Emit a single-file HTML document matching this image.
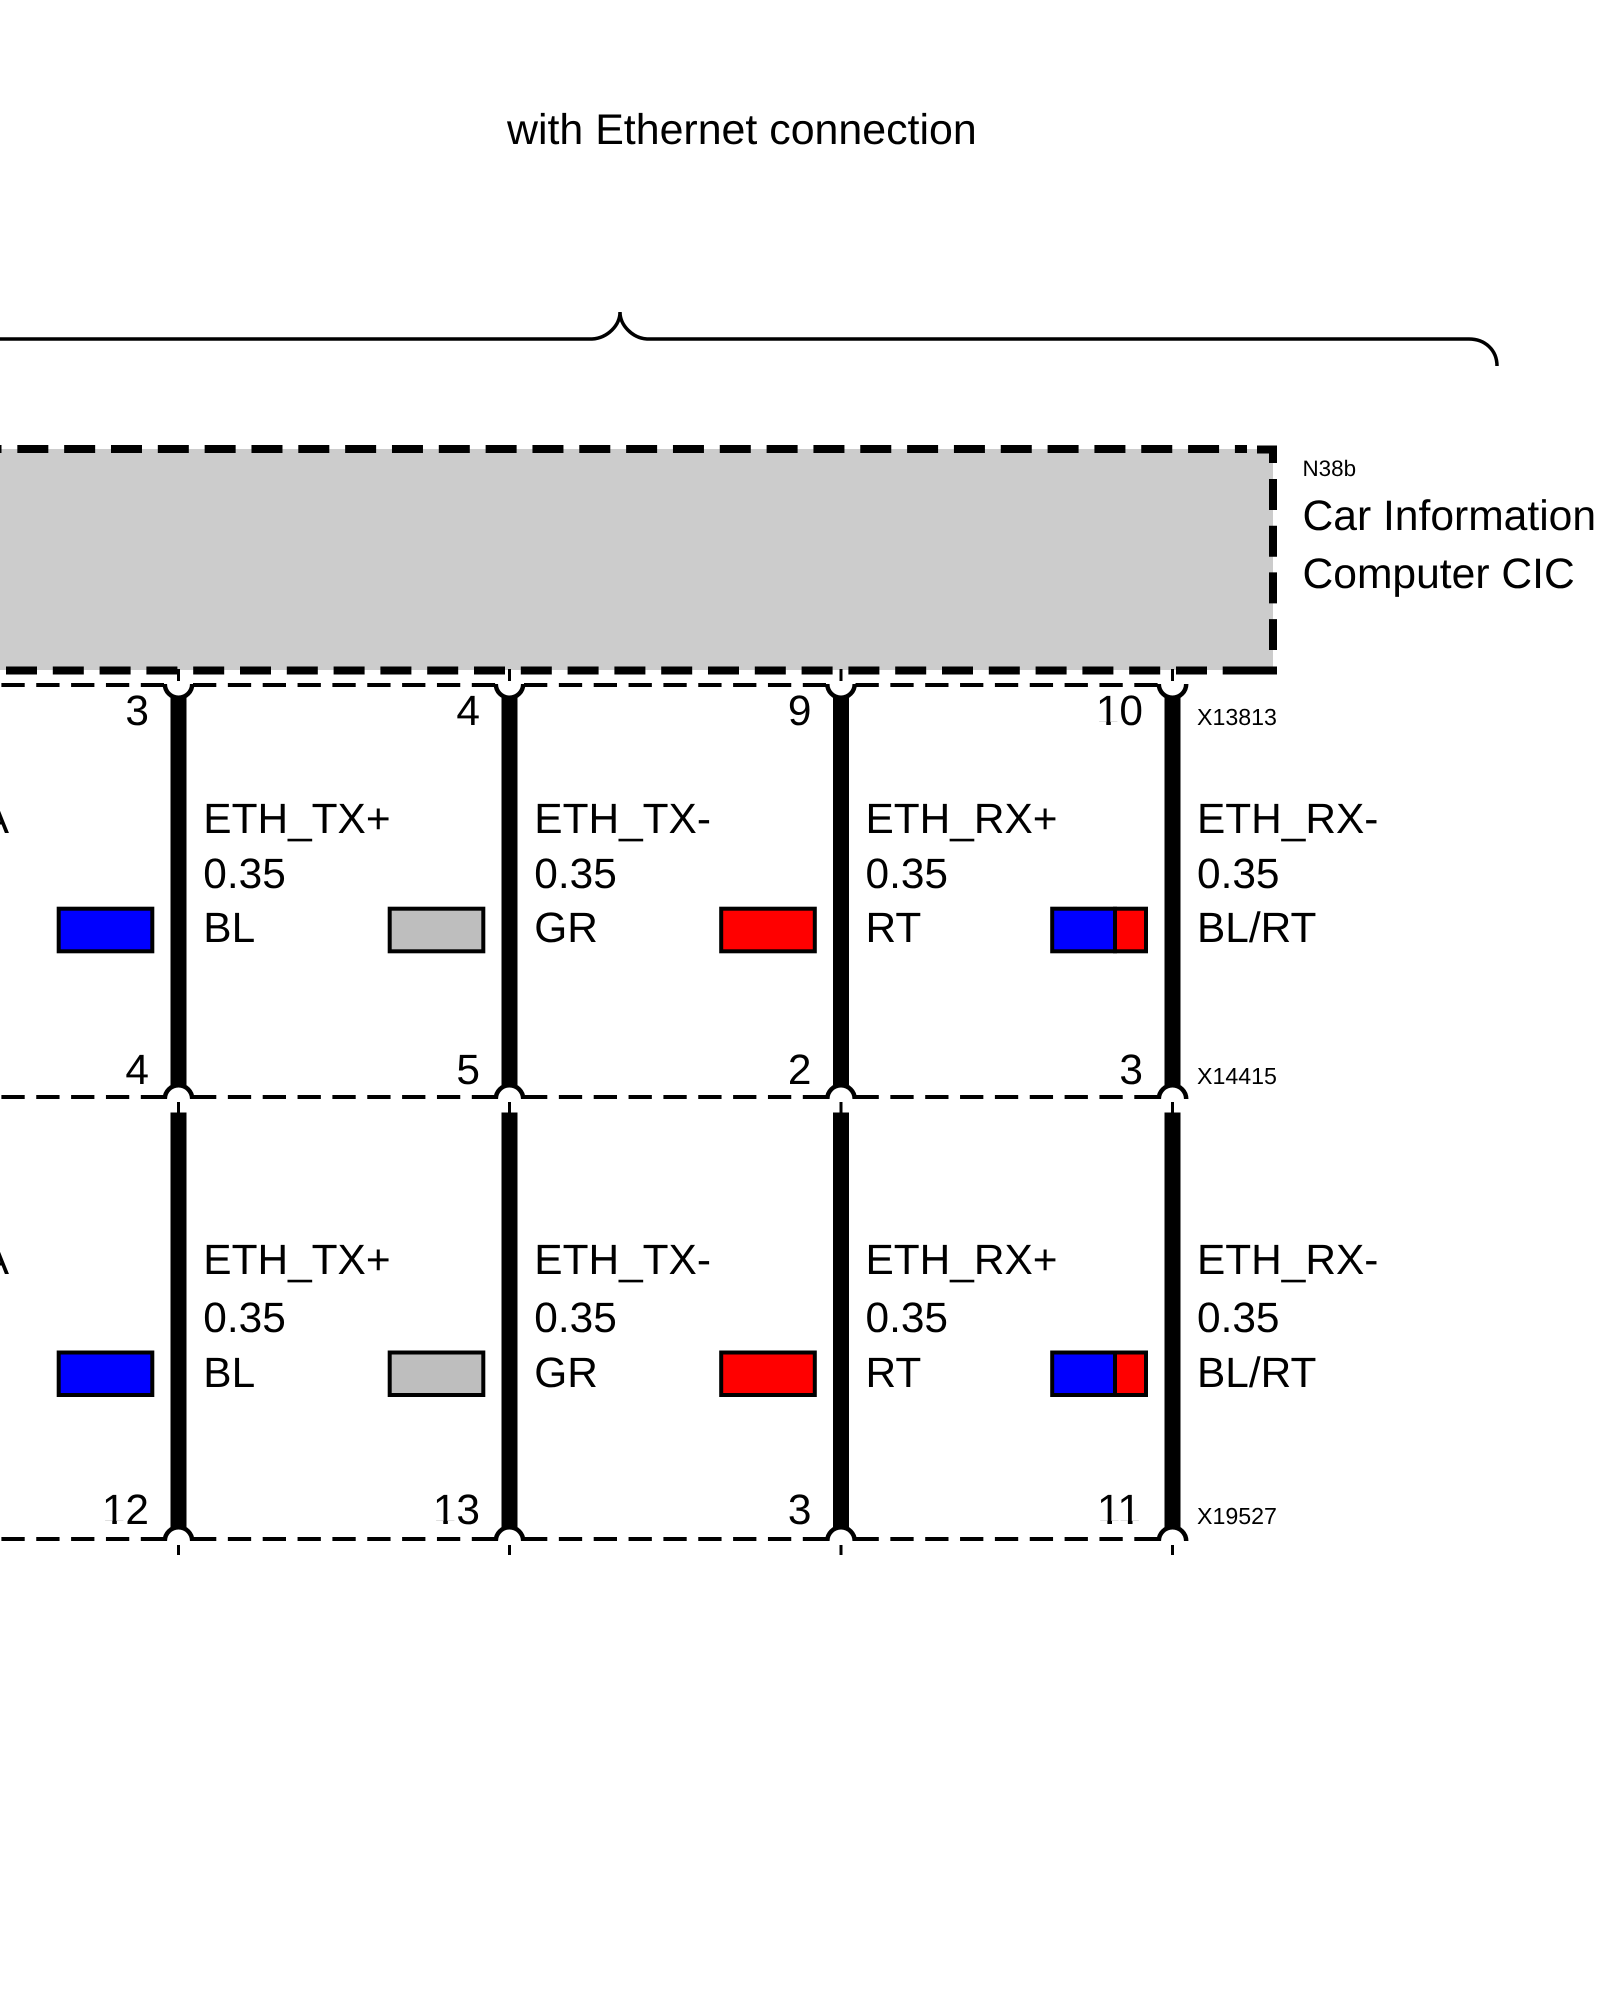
<!DOCTYPE html>
<html><head><meta charset="utf-8"><style>
html,body{margin:0;padding:0;background:#fff}
svg{display:block}
text{font-family:"Liberation Sans",sans-serif;fill:#000;text-rendering:geometricPrecision}
.l{font-size:42.4px}.s{font-size:23.2px}
</style></head><body>
<svg width="1600" height="2000" viewBox="0 0 1600 2000" xmlns="http://www.w3.org/2000/svg">
<rect width="1600" height="2000" fill="#fff"/>
<text x="507" y="144" font-size="42.9">with Ethernet connection</text>
<path d="M-5 339H592C608 338 620 325 620 312C620 325 632 338 647 339H1469C1485 339 1497 350 1497 366" fill="none" stroke="#000" stroke-width="3.5"/>
<rect x="-5" y="449" width="1278" height="221" fill="#ccc"/>
<g fill="none" stroke="#000" stroke-width="8">
<path d="M-29.5 449H1247" stroke-dasharray="31 15.83"/>
<path d="M1257 449.5H1273V463"/>
<path d="M1273 479V650" stroke-dasharray="31 15.7"/>
<path d="M-40.8 670.5H1210" stroke-dasharray="31 15.8"/>
<path d="M1222.7 670.5H1277"/>
</g>
<g id="d" fill="none" stroke="#000" stroke-width="4" stroke-dasharray="23.3 11.55">
<path d="M-138 685H164"/><path d="M193 685H495.5"/><path d="M524 685H826"/><path d="M855.5 685H1158"/>
<path d="M-138 1097H164"/><path d="M193 1097H495.5"/><path d="M524 1097H826"/><path d="M855.5 1097H1158"/>
<path d="M-138 1539H164"/><path d="M193 1539H495.5"/><path d="M524 1539H826"/><path d="M855.5 1539H1158"/>
</g>
<g id="w">
<g fill="none" stroke="#000" stroke-width="4.5">
<path d="M164.8 684A13.7 13.7 0 0 0 192.2 684"/>
<path d="M164.8 1099A13.7 13.7 0 0 1 192.2 1099"/>
<path d="M164.8 1541A13.7 13.7 0 0 1 192.2 1541"/>
</g>
<rect x="170.5" y="696" width="16" height="389"/>
<rect x="170.5" y="1112.5" width="16" height="415"/>
<rect x="177" y="669" width="3" height="12"/>
<rect x="177" y="1102" width="3" height="11"/>
<rect x="177" y="1545" width="3" height="10"/>
</g>
<use href="#w" x="331"/><use href="#w" x="662.5"/><use href="#w" x="994"/>
<g stroke="#000" stroke-width="4">
<rect x="58.7" y="908.7" width="93.6" height="42.6" fill="#00f"/>
<rect x="389.7" y="908.7" width="93.6" height="42.6" fill="#bebebe"/>
<rect x="721.2" y="908.7" width="93.6" height="42.6" fill="#f00"/>
<rect x="1052.2" y="908.7" width="62.8" height="42.6" fill="#00f"/><rect x="1115" y="908.7" width="31" height="42.6" fill="#f00"/>
<rect x="58.7" y="1352.5" width="93.6" height="42.5" fill="#00f"/>
<rect x="389.7" y="1352.5" width="93.6" height="42.5" fill="#bebebe"/>
<rect x="721.2" y="1352.5" width="93.6" height="42.5" fill="#f00"/>
<rect x="1052.2" y="1352.5" width="62.8" height="42.5" fill="#00f"/><rect x="1115" y="1352.5" width="31" height="42.5" fill="#f00"/>
</g>
<text class="l" x="9" y="833" text-anchor="end">A</text><text class="l" x="9" y="1274" text-anchor="end">A</text>
<text class="l" x="203.3" y="833">ETH_TX+</text><text class="l" x="203.3" y="888">0.35</text><text class="l" x="203.3" y="942">BL</text>
<text class="l" x="534.3" y="833">ETH_TX-</text><text class="l" x="534.3" y="888">0.35</text><text class="l" x="534.3" y="942">GR</text>
<text class="l" x="865.5" y="833">ETH_RX+</text><text class="l" x="865.5" y="888">0.35</text><text class="l" x="865.5" y="942">RT</text>
<text class="l" x="1197" y="833">ETH_RX-</text><text class="l" x="1197" y="888">0.35</text><text class="l" x="1197" y="942">BL/RT</text>
<text class="l" x="203.3" y="1274">ETH_TX+</text><text class="l" x="203.3" y="1332">0.35</text><text class="l" x="203.3" y="1387">BL</text>
<text class="l" x="534.3" y="1274">ETH_TX-</text><text class="l" x="534.3" y="1332">0.35</text><text class="l" x="534.3" y="1387">GR</text>
<text class="l" x="865.5" y="1274">ETH_RX+</text><text class="l" x="865.5" y="1332">0.35</text><text class="l" x="865.5" y="1387">RT</text>
<text class="l" x="1197" y="1274">ETH_RX-</text><text class="l" x="1197" y="1332">0.35</text><text class="l" x="1197" y="1387">BL/RT</text>
<text class="l" text-anchor="end" x="149" y="725">3</text><text class="l" text-anchor="end" x="480" y="725">4</text><text class="l" text-anchor="end" x="811.5" y="725">9</text><text class="l" text-anchor="end" x="1143" y="725">10</text>
<text class="l" text-anchor="end" x="149" y="1084">4</text><text class="l" text-anchor="end" x="480" y="1084">5</text><text class="l" text-anchor="end" x="811.5" y="1084">2</text><text class="l" text-anchor="end" x="1143" y="1084">3</text>
<text class="l" text-anchor="end" x="149" y="1524">12</text><text class="l" text-anchor="end" x="480" y="1524">13</text><text class="l" text-anchor="end" x="811.5" y="1524">3</text><text class="l" text-anchor="end" x="1141" y="1524">11</text>
<g fill="#fff">
<rect x="1097.8" y="722" width="8.5" height="4"/><rect x="1110.8" y="722" width="8" height="4"/>
<rect x="103.8" y="1521" width="8.5" height="4"/><rect x="116.8" y="1521" width="8" height="4"/>
<rect x="434.8" y="1521" width="8.5" height="4"/><rect x="447.8" y="1521" width="8" height="4"/>
<rect x="1098.9" y="1521" width="8.5" height="4"/><rect x="1112" y="1521" width="8" height="4"/>
<rect x="1119.4" y="1521" width="8.5" height="4"/><rect x="1132.5" y="1521" width="8" height="4"/>
</g>
<text x="1302.5" y="476" font-size="22.4">N38b</text>
<text x="1302.5" y="530" font-size="42.6">Car Information</text>
<text x="1302.5" y="588" font-size="42.6">Computer CIC</text>
<text class="s" x="1197" y="725">X13813</text>
<text class="s" x="1197" y="1084">X14415</text>
<text class="s" x="1197" y="1524">X19527</text>
</svg>
</body></html>
